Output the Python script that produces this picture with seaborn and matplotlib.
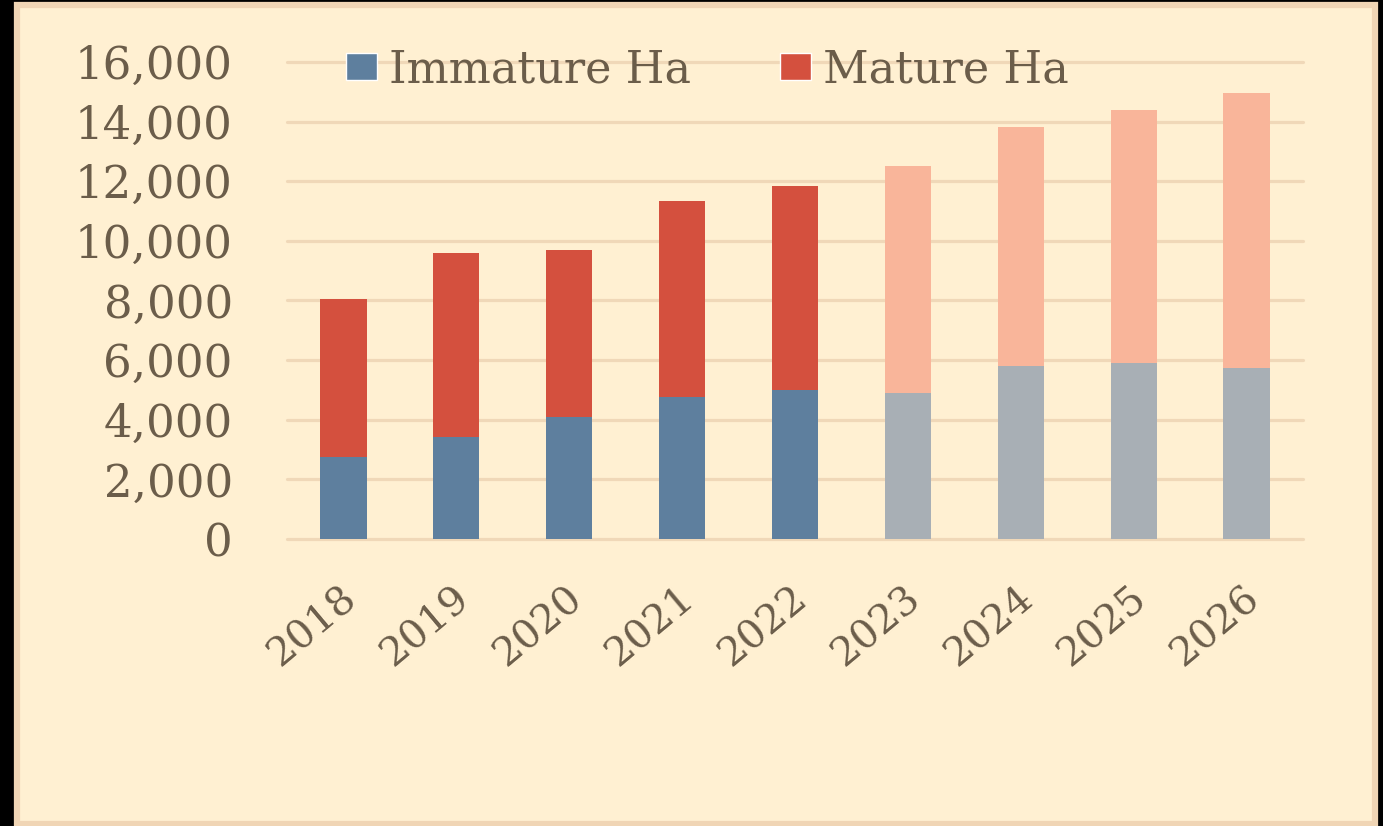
import pandas as pd
import numpy as np
import matplotlib.pyplot as plt
import matplotlib.transforms as mtransforms
import seaborn as sns
from matplotlib.patches import Patch, Rectangle

# Values (hectares)
years = ['2018', '2019', '2020', '2021', '2022', '2023', '2024', '2025', '2026']
immature = [2750, 3420, 4090, 4760, 5000, 4900, 5810, 5890, 5730]
mature = [5300, 6170, 5600, 6580, 6840, 7610, 8000, 8500, 9240]
forecast = [False, False, False, False, False, True, True, True, True]

bg = '#FFF0D2'
grid_col = '#F0D8B8'
text_col = '#6B5D4A'
imm_col, imm_fc = '#5E7F9E', '#A8AFB5'
mat_col, mat_fc = '#D4503E', '#F9B59A'

df = pd.DataFrame({'year': years, 'immature': immature, 'mature': mature, 'forecast': forecast})
df['total'] = df['immature'] + df['mature']

sns.set_style('white')
plt.rcParams['font.family'] = ['DejaVu Serif']

fig = plt.figure(figsize=(13.83, 8.26), dpi=100, facecolor='black')
# cream panel with a tan border inside the black frame
fig.patches.append(Rectangle((17 / 1383, 2 / 826), (1375 - 17) / 1383, (821 - 2) / 826,
                             transform=fig.transFigure, facecolor=bg, edgecolor='#F0D5B5',
                             linewidth=4.5, zorder=-5))

ax = fig.add_axes([287 / 1383, (826 - 539) / 826, (1303 - 287) / 1383, (539 - 62) / 826])
ax.set_facecolor('none')

mat_pal = [mat_fc if f else mat_col for f in forecast]
imm_pal = [imm_fc if f else imm_col for f in forecast]

sns.barplot(data=df, x='year', y='total', hue='year', palette=mat_pal, width=0.41,
            legend=False, ax=ax, saturation=1, linewidth=0, zorder=3)
sns.barplot(data=df, x='year', y='immature', hue='year', palette=imm_pal, width=0.41,
            legend=False, ax=ax, saturation=1, linewidth=0, zorder=4)

ax.set_xlim(-0.5, len(years) - 0.5)
ax.set_ylim(0, 16000)
ax.set_yticks(np.arange(0, 16001, 2000))
ax.set_yticklabels([f'{v:,}' for v in range(0, 16001, 2000)])
ax.yaxis.grid(True, color=grid_col, linewidth=2.3, zorder=0)
for gl in ax.get_ygridlines():
    gl.set_clip_on(False)
ax.set_axisbelow(True)
for s in ax.spines.values():
    s.set_visible(False)
ax.set_xlabel('')
ax.set_ylabel('')
ax.tick_params(axis='y', length=0, pad=39, labelsize=32.5, labelcolor=text_col)
ax.tick_params(axis='x', length=0, pad=29, labelsize=29, labelcolor=text_col)
shift = mtransforms.ScaledTranslation(-4 / 100, 0, fig.dpi_scale_trans)
for lbl in ax.get_xticklabels():
    lbl.set_rotation(40)
    lbl.set_horizontalalignment('right')
    lbl.set_rotation_mode('anchor')
    lbl.set_transform(lbl.get_transform() + shift)

handles = [Patch(facecolor=imm_col, label='Immature Ha'),
           Patch(facecolor=mat_col, label='Mature Ha')]
fig.legend(handles=handles, loc='center left', bbox_to_anchor=(306 / 1383, (826 - 70) / 826),
           ncol=2, frameon=False, fontsize=32, labelcolor=text_col,
           handlelength=0.7, handleheight=0.55, handletextpad=0.27, columnspacing=2.0)

fig.savefig('out.png', dpi=100, facecolor=fig.get_facecolor())
